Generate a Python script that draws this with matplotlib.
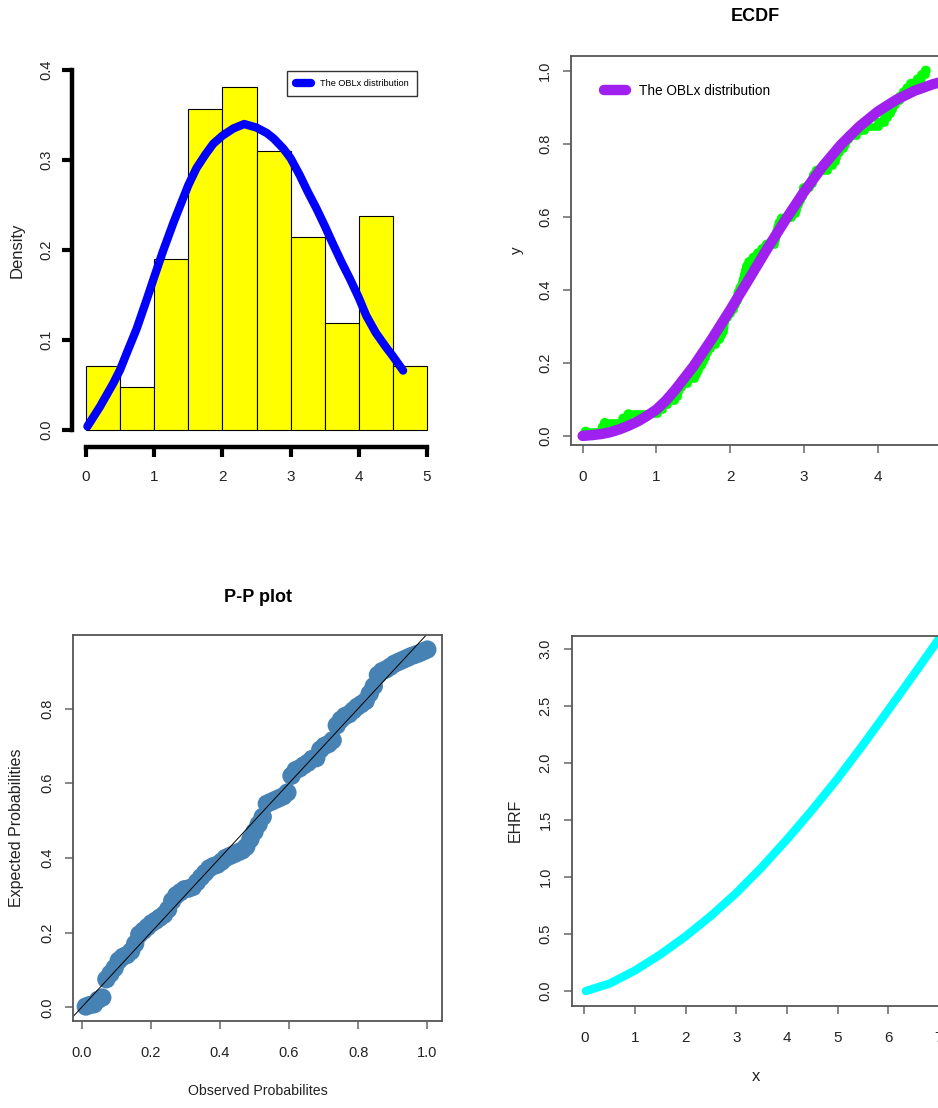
import numpy as np
import matplotlib.pyplot as plt

# sorted sample (n = 84)
sample = np.array([
    0.04, 0.27, 0.30, 0.55, 0.62,
    1.02, 1.085, 1.156, 1.25, 1.288, 1.308, 1.346, 1.423,
    1.517, 1.55, 1.583, 1.617, 1.64, 1.667, 1.693, 1.74, 1.812, 1.859, 1.884,
    1.909, 1.916, 1.928, 1.969,
    2.009, 2.045, 2.081, 2.099, 2.111, 2.136, 2.166, 2.181, 2.196, 2.211,
    2.226, 2.256, 2.315, 2.375, 2.435, 2.494,
    2.603, 2.619, 2.634, 2.65, 2.666, 2.697, 2.842, 2.891, 2.908, 2.934,
    2.957, 2.99, 2.997,
    3.08, 3.116, 3.134, 3.17, 3.325, 3.388, 3.429, 3.45, 3.492,
    3.54, 3.575, 3.615, 3.715, 3.829,
    4.016, 4.094, 4.133, 4.172, 4.211, 4.25, 4.30, 4.35, 4.40, 4.45,
    4.54, 4.597, 4.65])

# fitted OBLx density
dens_x = [0.02, 0.205, 0.40, 0.50, 0.60, 0.74, 0.89, 1.0, 1.13, 1.28, 1.40,
          1.5, 1.62, 1.75, 1.865, 2.0, 2.16, 2.32, 2.5, 2.65, 2.75, 2.89,
          3.0, 3.135, 3.25, 3.38, 3.5, 3.62, 3.75, 3.87, 4.0, 4.11, 4.25,
          4.40, 4.5, 4.65]
dens_y = [0.004, 0.026, 0.052, 0.067, 0.086, 0.112, 0.145, 0.170, 0.199,
          0.230, 0.253, 0.272, 0.291, 0.306, 0.318, 0.327, 0.335, 0.340,
          0.336, 0.330, 0.324, 0.313, 0.302, 0.283, 0.265, 0.246, 0.227,
          0.207, 0.186, 0.168, 0.147, 0.127, 0.108, 0.092, 0.082, 0.066]

# fitted OBLx cdf
cdf_x = [0.0, 0.125, 0.25, 0.375, 0.5, 0.625, 0.75, 0.875, 1.0, 1.125, 1.25,
         1.5, 1.75, 2.0, 2.25, 2.5, 2.75, 3.0, 3.25, 3.5, 3.75, 4.0, 4.25,
         4.5, 4.75, 5.0]
cdf_y = [0.000, 0.002, 0.005, 0.010, 0.018, 0.028, 0.040, 0.055, 0.072,
         0.096, 0.125, 0.190, 0.265, 0.345, 0.428, 0.512, 0.592, 0.668,
         0.737, 0.797, 0.847, 0.888, 0.920, 0.945, 0.963, 0.976]

# expected probabilities under the fit
pp_expected = [
    0.002, 0.006, 0.008, 0.020, 0.026,
    0.075, 0.090, 0.105, 0.125, 0.135, 0.140, 0.150, 0.170,
    0.195, 0.205, 0.215, 0.225, 0.232, 0.240, 0.248, 0.262, 0.285, 0.300,
    0.308, 0.316, 0.318, 0.322, 0.335,
    0.348, 0.360, 0.372, 0.378, 0.382, 0.390, 0.400, 0.405, 0.410, 0.415,
    0.420, 0.430, 0.450, 0.470, 0.490, 0.510,
    0.545, 0.550, 0.555, 0.560, 0.565, 0.575, 0.620, 0.635, 0.640, 0.648,
    0.655, 0.665, 0.667,
    0.690, 0.700, 0.705, 0.715, 0.755, 0.770, 0.780, 0.785, 0.795,
    0.805, 0.812, 0.820, 0.840, 0.860,
    0.890, 0.900, 0.905, 0.912, 0.920, 0.925, 0.930, 0.935, 0.940, 0.944,
    0.948, 0.953, 0.958]

# estimated hazard rate function
hrf_x = [0.03, 0.5, 1.0, 1.5, 2.0, 2.5, 3.0, 3.5, 4.0, 4.5, 5.0, 5.5, 6.0,
         6.5, 7.0]
hrf_y = [0.0, 0.065, 0.180, 0.320, 0.480, 0.660, 0.860, 1.085, 1.330,
         1.590, 1.865, 2.160, 2.465, 2.775, 3.09]

hist_edges = np.arange(0, 5.5, 0.5)
hist_xticks = [0, 1, 2, 3, 4, 5]
hist_yticks = [0.0, 0.1, 0.2, 0.3, 0.4]
ecdf_xticks = [0, 1, 2, 3, 4]
ecdf_yticks = [0.0, 0.2, 0.4, 0.6, 0.8, 1.0]
pp_xticks = [0.0, 0.2, 0.4, 0.6, 0.8, 1.0]
pp_yticks = [0.0, 0.2, 0.4, 0.6, 0.8]
hrf_xticks = [0, 1, 2, 3, 4, 5, 6, 7]
hrf_yticks = [0.0, 0.5, 1.0, 1.5, 2.0, 2.5, 3.0]

plt.rcParams['font.family'] = ['Liberation Sans', 'DejaVu Sans']
ink = '#222222'

W, H = 938, 1108
fig = plt.figure(figsize=(W / 100, H / 100), dpi=100)


def box(l, t, r, b):
    return [l / W, 1 - b / H, (r - l) / W, (b - t) / H]


def set_ticks(ax, xt, yt, fmt_x, fmt_y, xpad, ypad, xsize=11):
    ax.set_xticks(xt, [fmt_x.format(v) for v in xt], fontsize=xsize, color=ink)
    ax.set_yticks(yt, [fmt_y.format(v) for v in yt], fontsize=10.5, color=ink,
                  rotation=90, va='center')
    ax.tick_params(axis='x', pad=xpad)
    ax.tick_params(axis='y', pad=ypad)


def framed(ax):
    for s in ax.spines.values():
        s.set_color('#555555')
        s.set_linewidth(1.3)
    ax.tick_params(direction='out', length=5.8, width=1.1, color='#666666')


# histogram with fitted density
ax1 = fig.add_axes(box(72.4, 55.6, 440.6, 444.4))
ax1.hist(sample, bins=hist_edges, density=True, color='yellow',
         edgecolor='black', linewidth=0.8)
ax1.plot(dens_x, dens_y, color='blue', lw=6, solid_capstyle='round',
         solid_joinstyle='round', label='The OBLx distribution')
ax1.spines[['top', 'right']].set_visible(False)
ax1.spines['left'].set_bounds(0, 0.4)
ax1.spines['bottom'].set_bounds(0, 5)
ax1.spines['bottom'].set_position(('outward', 2))
for s in ('left', 'bottom'):
    ax1.spines[s].set_linewidth(3.2)
ax1.tick_params(direction='out', length=7, width=3)
set_ticks(ax1, hist_xticks, hist_yticks, '{:d}', '{:.1f}', 9.5, 6.8)
ax1.set_xlim(-0.2, 5.2)
ax1.set_ylim(-0.016, 0.416)
ax1.set_ylabel('Density', fontsize=12, color=ink, va='center')
ax1.yaxis.set_label_coords(-0.150, 0.5)
leg = ax1.legend(loc='upper right', bbox_to_anchor=(0.936, 0.961),
                 borderaxespad=0, fancybox=False, framealpha=1,
                 edgecolor='#333333', handlelength=1.65, handletextpad=1.0,
                 borderpad=0.9, prop={'size': 6.6})
leg.get_frame().set_linewidth(1.0)

# empirical vs fitted cdf
ax2 = fig.add_axes(box(571, 56, 939.5, 445))
ecdf_y = np.arange(1, len(sample) + 1) / len(sample)
ax2.step(sample, ecdf_y, where='post', color='#00FF00', lw=5.5)
ax2.scatter(sample, ecdf_y, s=50, color='#00FF00', edgecolors='none')
ax2.plot(cdf_x, cdf_y, color='#A020F0', lw=7.5, solid_capstyle='round',
         solid_joinstyle='round', label='The OBLx distribution')
framed(ax2)
set_ticks(ax2, ecdf_xticks, ecdf_yticks, '{:d}', '{:.1f}', 12.5, 7.7)
ax2.set_xlim(-0.158, 4.836)
ax2.set_ylim(-0.025, 1.04)
ax2.set_title('ECDF', fontweight='bold', fontsize=13, pad=25)
ax2.set_ylabel('y', fontsize=11, color=ink, va='center')
ax2.yaxis.set_label_coords(-0.146, 0.5)
ax2.legend(loc='center left', bbox_to_anchor=(0.0896, 0.910), frameon=False,
           borderaxespad=0, borderpad=0, handlelength=1.6,
           handletextpad=1.0, prop={'size': 9.8})

# P-P plot
ax3 = fig.add_axes(box(73.3, 635, 441.7, 1021))
pp_obs = np.arange(1, len(pp_expected) + 1) / len(pp_expected)
ax3.scatter(pp_obs, pp_expected, s=175, color='steelblue', edgecolors='none')
ax3.axline((0, 0), slope=1, color='black', lw=0.7)
framed(ax3)
set_ticks(ax3, pp_xticks, pp_yticks, '{:.1f}', '{:.1f}', 12, 7.7, xsize=10.5)
ax3.set_xlim(-0.0243, 1.0417)
ax3.set_ylim(-0.0368, 0.997)
ax3.set_title('P-P plot', fontweight='bold', fontsize=13, pad=24)
ax3.set_xlabel('Observed Probabilites', fontsize=10.2, color=ink, va='center')
ax3.xaxis.set_label_coords(0.5, -0.181)
ax3.set_ylabel('Expected Probabilities', fontsize=11.5, color=ink, va='center')
ax3.yaxis.set_label_coords(-0.1536, 0.5)

# hazard rate
ax4 = fig.add_axes(box(571.7, 635.7, 939.5, 1005.7))
ax4.plot(hrf_x, hrf_y, color='cyan', lw=6, solid_capstyle='round',
         solid_joinstyle='round')
framed(ax4)
set_ticks(ax4, hrf_xticks, hrf_yticks, '{:d}', '{:.1f}', 12.3, 8)
ax4.set_xlim(-0.249, 7.013)
ax4.set_ylim(-0.129, 3.119)
ax4.set_xlabel('x', fontsize=12, color=ink, va='center')
ax4.xaxis.set_label_coords(0.5, -0.192)
ax4.set_ylabel('EHRF', fontsize=11.5, color=ink, va='center')
ax4.yaxis.set_label_coords(-0.153, 0.5)

fig.savefig('out.png', dpi=100)
